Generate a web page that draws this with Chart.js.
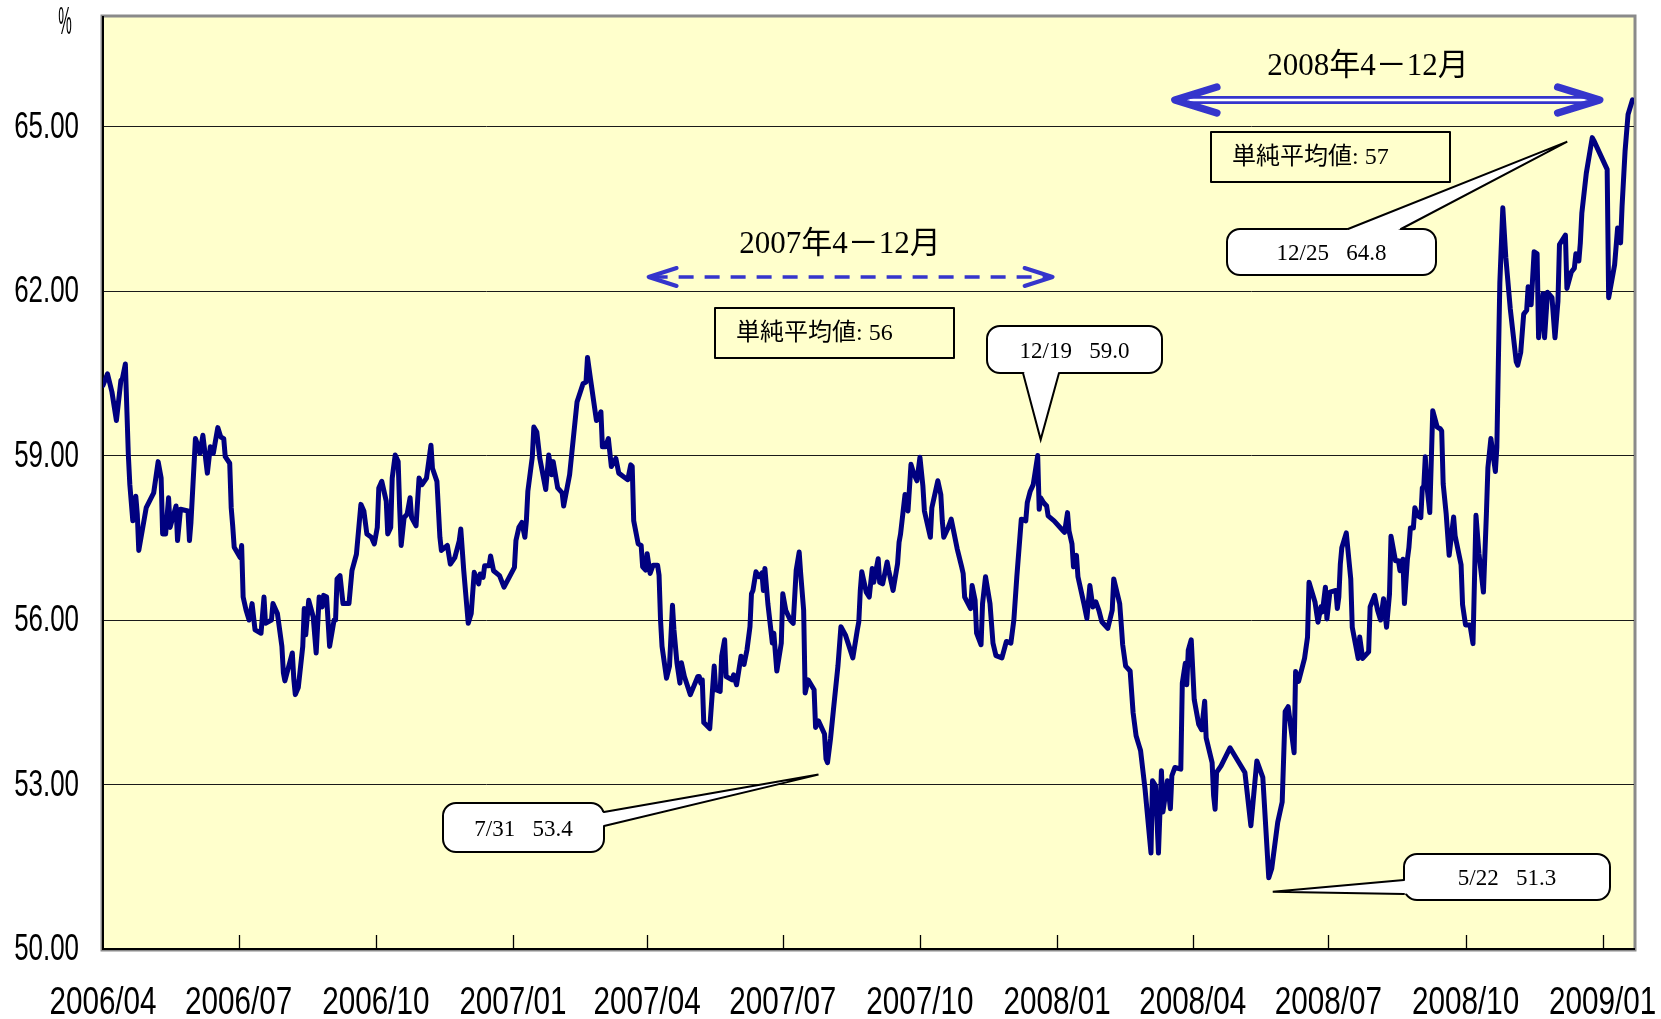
<!DOCTYPE html>
<html>
<head>
<meta charset="utf-8">
<title>Rate 2006/04 - 2009/01</title>
<script src="https://cdn.jsdelivr.net/npm/chart.js@4.4.1/dist/chart.umd.min.js"></script>
<style>
  html, body { margin: 0; padding: 0; background: #fff; }
  canvas { display: block; }
</style>
</head>
<body>
<canvas id="chart" width="1661" height="1019"></canvas>
<script>
// ── data (per month) ──
const dates = [
  '2006/04/01','2006/04/04','2006/04/07','2006/04/10','2006/04/13','2006/04/14','2006/04/16','2006/04/18','2006/04/19','2006/04/21','2006/04/23','2006/04/24','2006/04/25','2006/04/30',
  '2006/05/05','2006/05/08','2006/05/10','2006/05/11','2006/05/13','2006/05/15','2006/05/16','2006/05/20','2006/05/21','2006/05/23','2006/05/28','2006/05/29','2006/05/30',
  '2006/06/02','2006/06/04','2006/06/05','2006/06/07','2006/06/10','2006/06/12','2006/06/14','2006/06/17','2006/06/19','2006/06/21','2006/06/22','2006/06/25','2006/06/26','2006/06/27','2006/06/28',
  '2006/07/02','2006/07/03','2006/07/04','2006/07/06','2006/07/08','2006/07/10','2006/07/12','2006/07/16','2006/07/18','2006/07/19','2006/07/23','2006/07/24','2006/07/27','2006/07/30','2006/07/31',
  '2006/08/01','2006/08/06','2006/08/07','2006/08/08','2006/08/10','2006/08/13','2006/08/14','2006/08/15','2006/08/17','2006/08/20','2006/08/22','2006/08/24','2006/08/26','2006/08/27','2006/08/29','2006/08/31',
  '2006/09/03','2006/09/04','2006/09/05','2006/09/07','2006/09/09','2006/09/13','2006/09/15','2006/09/18','2006/09/21','2006/09/23','2006/09/25','2006/09/28','2006/09/30',
  '2006/10/02','2006/10/03','2006/10/05','2006/10/08','2006/10/09','2006/10/11','2006/10/12','2006/10/14','2006/10/16','2006/10/17','2006/10/18','2006/10/20','2006/10/22','2006/10/24','2006/10/25','2006/10/28','2006/10/30',
  '2006/11/01','2006/11/04','2006/11/07','2006/11/08','2006/11/11','2006/11/13','2006/11/14','2006/11/18','2006/11/20','2006/11/23','2006/11/26','2006/11/27','2006/11/29',
  '2006/12/02','2006/12/04','2006/12/06','2006/12/09','2006/12/10','2006/12/12','2006/12/13','2006/12/16','2006/12/17','2006/12/19','2006/12/23','2006/12/26',
  '2007/01/02','2007/01/03','2007/01/05','2007/01/07','2007/01/09','2007/01/10','2007/01/11','2007/01/14','2007/01/15','2007/01/17','2007/01/19','2007/01/23','2007/01/25','2007/01/27','2007/01/28','2007/01/31',
  '2007/02/03','2007/02/04','2007/02/08','2007/02/13','2007/02/17','2007/02/19','2007/02/20','2007/02/22','2007/02/26','2007/02/27',
  '2007/03/01','2007/03/02','2007/03/04','2007/03/06','2007/03/08','2007/03/11','2007/03/13','2007/03/16','2007/03/19','2007/03/21','2007/03/22','2007/03/23','2007/03/26','2007/03/28','2007/03/29','2007/03/31',
  '2007/04/01','2007/04/03','2007/04/05','2007/04/08','2007/04/09','2007/04/10','2007/04/11','2007/04/14','2007/04/16','2007/04/18','2007/04/19','2007/04/21','2007/04/23','2007/04/24','2007/04/26','2007/04/30',
  '2007/05/05','2007/05/06','2007/05/07','2007/05/08','2007/05/09','2007/05/13','2007/05/16','2007/05/17','2007/05/20','2007/05/21','2007/05/23','2007/05/24','2007/05/28','2007/05/29','2007/05/31',
  '2007/06/03','2007/06/05','2007/06/07','2007/06/09','2007/06/10','2007/06/11','2007/06/13','2007/06/15','2007/06/17','2007/06/18','2007/06/19','2007/06/21','2007/06/24','2007/06/25','2007/06/27','2007/06/30',
  '2007/07/01','2007/07/03','2007/07/06','2007/07/08','2007/07/10','2007/07/12','2007/07/13','2007/07/15','2007/07/16','2007/07/18','2007/07/22','2007/07/23','2007/07/25','2007/07/29','2007/07/30','2007/07/31',
  '2007/08/02','2007/08/04','2007/08/07','2007/08/09','2007/08/12','2007/08/17','2007/08/20','2007/08/21','2007/08/22','2007/08/23','2007/08/26','2007/08/28','2007/08/30','2007/08/31',
  '2007/09/03','2007/09/04','2007/09/06','2007/09/09','2007/09/10','2007/09/13','2007/09/16','2007/09/17','2007/09/18','2007/09/21','2007/09/23','2007/09/25','2007/09/27','2007/09/29',
  '2007/10/01','2007/10/03','2007/10/04','2007/10/08','2007/10/09','2007/10/13','2007/10/15','2007/10/16','2007/10/17','2007/10/20','2007/10/22','2007/10/24','2007/10/26','2007/10/29','2007/10/30','2007/10/31',
  '2007/11/04','2007/11/05','2007/11/07','2007/11/08','2007/11/11','2007/11/12','2007/11/14','2007/11/17','2007/11/19','2007/11/21','2007/11/25','2007/11/28',
  '2007/12/01','2007/12/03','2007/12/05','2007/12/08','2007/12/11','2007/12/12','2007/12/14','2007/12/16','2007/12/19','2007/12/20','2007/12/21','2007/12/23','2007/12/25','2007/12/26','2007/12/30',
  '2008/01/05','2008/01/06','2008/01/08','2008/01/09','2008/01/11','2008/01/12','2008/01/14','2008/01/15','2008/01/19','2008/01/21','2008/01/23','2008/01/25','2008/01/27','2008/01/29','2008/01/31',
  '2008/02/04','2008/02/07','2008/02/08','2008/02/12','2008/02/13','2008/02/14','2008/02/16','2008/02/19','2008/02/21','2008/02/23','2008/02/25','2008/02/26','2008/02/29',
  '2008/03/04','2008/03/05','2008/03/07','2008/03/09','2008/03/11','2008/03/12','2008/03/15','2008/03/17','2008/03/18','2008/03/20','2008/03/24','2008/03/25','2008/03/27','2008/03/28','2008/03/29','2008/03/31',
  '2008/04/02','2008/04/05','2008/04/07','2008/04/09','2008/04/10','2008/04/14','2008/04/15','2008/04/16','2008/04/17','2008/04/20','2008/04/26',
  '2008/05/06','2008/05/10','2008/05/14','2008/05/18','2008/05/22','2008/05/24','2008/05/28','2008/05/31',
  '2008/06/02','2008/06/04','2008/06/08','2008/06/09','2008/06/11','2008/06/15','2008/06/17','2008/06/18','2008/06/22','2008/06/24','2008/06/26','2008/06/27','2008/06/29','2008/06/30',
  '2008/07/02','2008/07/06','2008/07/07','2008/07/08','2008/07/09','2008/07/10','2008/07/13','2008/07/16','2008/07/17','2008/07/21','2008/07/22','2008/07/24','2008/07/28','2008/07/29',
  '2008/08/01','2008/08/03','2008/08/05','2008/08/07','2008/08/09','2008/08/11','2008/08/12','2008/08/15','2008/08/17','2008/08/18','2008/08/20','2008/08/21','2008/08/23','2008/08/24','2008/08/25','2008/08/27','2008/08/28','2008/08/30',
  '2008/09/01','2008/09/02','2008/09/03','2008/09/04','2008/09/05','2008/09/07','2008/09/09','2008/09/12','2008/09/14','2008/09/15','2008/09/16','2008/09/18','2008/09/20','2008/09/23','2008/09/24','2008/09/27','2008/09/28','2008/09/29',
  '2008/10/01','2008/10/04','2008/10/06','2008/10/08','2008/10/10','2008/10/13','2008/10/15','2008/10/16','2008/10/18','2008/10/21','2008/10/22','2008/10/23','2008/10/24','2008/10/26','2008/10/28','2008/10/31',
  '2008/11/04','2008/11/05','2008/11/07','2008/11/09','2008/11/11','2008/11/12','2008/11/14','2008/11/16','2008/11/18','2008/11/19','2008/11/22','2008/11/23','2008/11/25','2008/11/28','2008/11/30',
  '2008/12/02','2008/12/03','2008/12/07','2008/12/08','2008/12/11','2008/12/13','2008/12/14','2008/12/16','2008/12/17','2008/12/18','2008/12/21','2008/12/25','2008/12/26',
  '2009/01/04','2009/01/05','2009/01/09','2009/01/11','2009/01/13','2009/01/14','2009/01/16','2009/01/18','2009/01/21'
];

const rates = [
  60.28,60.49,60.16,59.64,60.37,60.40,60.67,59.01,58.47,57.81,58.26,57.93,57.27,58.05,
  58.32,58.89,58.59,57.57,57.57,58.23,57.69,58.08,57.45,58.02,57.99,57.45,57.78,
  59.31,59.16,59.04,59.37,58.68,59.16,59.04,59.51,59.34,59.31,58.98,58.86,58.05,57.72,57.33,
  57.14,57.36,56.42,56.18,56.00,56.30,55.82,55.76,56.42,55.94,56.00,56.30,56.12,55.52,55.04,
  54.89,55.40,54.92,54.64,54.77,55.52,56.21,55.73,56.36,56.06,55.40,56.42,56.24,56.45,56.42,55.52,
  56.00,56.00,56.75,56.81,56.30,56.30,56.90,57.20,58.11,57.99,57.57,57.51,57.39,
  57.69,58.41,58.53,58.17,57.57,57.69,58.59,59.01,58.89,58.05,57.36,57.87,57.93,58.23,57.87,57.72,58.59,
  58.47,58.59,59.19,58.77,58.53,57.51,57.27,57.36,57.02,57.14,57.45,57.66,56.90,
  55.94,56.12,56.87,56.66,56.84,56.78,56.99,56.99,57.17,56.90,56.81,56.60,
  56.96,57.45,57.69,57.78,57.51,57.81,58.35,58.98,59.52,59.43,58.95,58.38,59.01,58.65,58.89,58.41,
  58.32,58.08,58.65,59.98,60.31,60.34,60.79,60.40,59.64,59.67,
  59.80,59.16,59.16,59.31,58.80,58.95,58.68,58.62,58.56,58.83,58.80,57.81,57.39,57.36,56.97,56.91,
  57.21,56.85,57.00,57.00,56.82,56.00,55.52,54.94,55.16,56.27,55.82,55.22,54.85,55.22,54.97,54.64,
  54.97,54.97,54.85,54.91,54.13,54.02,55.16,54.73,54.70,55.34,55.64,54.97,54.91,55.00,54.82,
  55.34,55.19,55.46,55.88,56.48,56.54,56.88,56.79,56.86,56.54,56.94,56.30,55.58,55.76,55.07,55.58,
  56.48,56.18,56.00,55.94,56.91,57.24,56.85,56.18,54.67,54.91,54.73,54.04,54.16,53.92,53.47,53.40,
  53.83,54.37,55.16,55.88,55.73,55.31,55.82,55.97,56.54,56.88,56.51,56.42,56.94,56.69,
  57.12,56.69,56.66,57.06,56.91,56.54,57.03,57.42,57.57,58.29,57.99,58.84,58.66,58.54,
  58.97,58.44,57.99,57.51,58.05,58.54,58.29,57.81,57.51,57.69,57.84,57.57,57.30,56.97,56.85,56.42,
  56.21,56.63,56.36,55.76,55.55,56.30,56.79,56.30,55.58,55.35,55.31,55.61,
  55.58,56.00,56.79,57.84,57.81,58.14,58.35,58.47,59.00,58.02,58.23,58.14,58.08,57.90,57.81,
  57.63,57.60,57.96,57.63,57.39,56.97,57.18,56.79,56.30,56.03,56.63,56.24,56.33,56.18,55.97,
  55.85,56.18,56.75,56.30,55.94,55.55,55.16,55.07,54.31,53.89,53.71,53.62,52.92,
  51.75,53.07,52.98,51.75,53.25,52.50,53.07,52.56,53.16,53.31,53.28,54.85,55.21,54.82,55.45,55.64,
  54.55,54.10,54.00,54.52,53.85,53.40,52.80,52.55,53.22,53.34,53.67,
  53.22,52.25,53.43,53.13,51.30,51.47,52.31,52.68,
  54.33,54.42,53.58,55.06,54.88,55.30,55.69,56.69,56.33,55.96,56.24,56.15,56.60,56.02,
  56.51,56.54,56.21,56.42,57.02,57.32,57.59,56.75,55.87,55.30,55.69,55.30,55.42,56.24,
  56.45,56.18,56.00,56.39,55.87,56.48,57.53,57.08,57.08,56.90,57.11,56.30,57.11,57.32,57.68,57.68,58.05,57.90,
  57.87,58.41,58.44,58.98,58.47,57.96,59.82,59.52,59.49,59.45,58.48,57.94,57.18,57.88,57.54,57.14,57.01,56.28,
  55.91,55.91,55.57,57.91,57.21,56.51,57.94,58.78,59.31,58.71,59.15,60.68,62.15,63.52,62.62,61.68,
  60.71,60.65,60.88,61.58,61.65,62.08,61.75,62.72,62.68,61.15,61.95,61.15,61.98,61.88,61.15,
  61.82,62.85,63.02,62.05,62.35,62.42,62.68,62.55,62.88,63.42,64.15,64.80,64.75,
  64.22,61.88,62.48,63.15,62.88,63.55,64.55,65.22,65.49
];

const xTickLabels = ['2006/04','2006/07','2006/10','2007/01','2007/04','2007/07','2007/10','2008/01','2008/04','2008/07','2008/10','2009/01'];
const yTickValues = [50, 53, 56, 59, 62, 65];
const Y_MIN = 50, Y_MAX = 67;
const AXIS_END = '2009/01/22';

// ── annotations ──
const periods = [
  { label: '2007年4－12月', from: '2007/04/02', to: '2007/12/29', arrowY: 277, textX: 840, textY: 245, dashed: true },
  { label: '2008年4－12月', from: '2008/03/20', to: '2008/12/30', arrowY: 100, textX: 1368, textY: 67, dashed: false }
];
const avgBoxes = [
  { text: '単純平均値: 56', box: [715, 308, 239, 50] },
  { text: '単純平均値: 57', box: [1211, 132, 239, 50] }
];
const callouts = [
  { text: '12/19   59.0', at: ['2007/12/19', 59.0], dx: 3, dy: -16, box: [987, 326, 175, 47], wedge: [[1023, 373], [1059, 373]] },
  { text: '7/31   53.4', at: ['2007/07/31', 53.4], dx: -9, dy: 12, box: [443, 803, 161, 49], wedge: [[604, 812], [604, 826]] },
  { text: '5/22   51.3', at: ['2008/05/22', 51.3], dx: 4, dy: 14, box: [1404, 854, 206, 46], wedge: [[1404, 880], [1404, 894]] },
  { text: '12/25   64.8', at: ['2008/12/25', 64.8], dx: -25, dy: 4, box: [1227, 229, 209, 46], wedge: [[1348, 229], [1401, 229]] }
];

// no narrow font installed: axis text is squeezed horizontally when drawn
const AXIS_FONT = "'Liberation Sans', Arial, sans-serif";
const NOTE_FONT = "'Liberation Serif', 'Noto Sans CJK JP', serif";
const ARROW = '#3535cc';

const BASE = Date.UTC(2006, 3, 1);
function dayOf(s) {
  const p = s.split('/').map(Number);
  return Math.round((Date.UTC(p[0], p[1] - 1, p[2] || 1) - BASE) / 86400000);
}

function roundBox(ctx, x, y, w, h, r) {
  ctx.beginPath();
  ctx.moveTo(x + r, y);
  ctx.arcTo(x + w, y, x + w, y + h, r);
  ctx.arcTo(x + w, y + h, x, y + h, r);
  ctx.arcTo(x, y + h, x, y, r);
  ctx.arcTo(x, y, x + w, y, r);
  ctx.closePath();
}

function chevron(ctx, tipX, y, dir, len, half, width) {
  ctx.beginPath();
  ctx.moveTo(tipX + dir * len, y - half);
  ctx.lineTo(tipX, y);
  ctx.lineTo(tipX + dir * len, y + half);
  ctx.lineWidth = width;
  ctx.lineCap = 'round';
  ctx.lineJoin = 'round';
  ctx.stroke();
}

function squeezedText(ctx, text, x, y, sx) {
  ctx.save();
  ctx.translate(x, y);
  ctx.scale(sx, 1);
  ctx.fillText(text, 0, 0);
  ctx.restore();
}

function drawNotes(chart) {
  const { ctx, scales: { x, y } } = chart;
  ctx.save();

  // period arrows + labels
  periods.forEach(p => {
    const x1 = x.getPixelForValue(dayOf(p.from));
    const x2 = x.getPixelForValue(dayOf(p.to));
    ctx.strokeStyle = ARROW;
    if (p.dashed) {
      ctx.setLineDash([15, 11]);
      ctx.lineWidth = 3.5;
      ctx.lineCap = 'butt';
      ctx.beginPath(); ctx.moveTo(x1 + 4, p.arrowY); ctx.lineTo(x2 - 4, p.arrowY); ctx.stroke();
      ctx.setLineDash([]);
      chevron(ctx, x1, p.arrowY, 1, 28, 9, 4);
      chevron(ctx, x2, p.arrowY, -1, 28, 9, 4);
    } else {
      ctx.lineWidth = 8;
      ctx.lineCap = 'butt';
      ctx.beginPath(); ctx.moveTo(x1 + 4, p.arrowY); ctx.lineTo(x2 - 4, p.arrowY); ctx.stroke();
      ctx.strokeStyle = '#ffffff';
      ctx.lineWidth = 2.4;
      ctx.beginPath(); ctx.moveTo(x1 + 12, p.arrowY); ctx.lineTo(x2 - 12, p.arrowY); ctx.stroke();
      ctx.strokeStyle = ARROW;
      chevron(ctx, x1, p.arrowY, 1, 42, 13, 7.5);
      chevron(ctx, x2, p.arrowY, -1, 42, 13, 7.5);
    }
    ctx.fillStyle = '#000';
    ctx.font = '31px ' + NOTE_FONT;
    ctx.textAlign = 'center';
    ctx.textBaseline = 'middle';
    ctx.fillText(p.label, p.textX, p.textY);
  });

  // simple-average boxes
  avgBoxes.forEach(b => {
    const [bx, by, bw, bh] = b.box;
    ctx.strokeStyle = '#000';
    ctx.lineWidth = 2;
    ctx.strokeRect(bx, by, bw, bh);
    ctx.fillStyle = '#000';
    ctx.font = '24px ' + NOTE_FONT;
    ctx.textAlign = 'left';
    ctx.textBaseline = 'middle';
    ctx.fillText(b.text, bx + 21, by + bh / 2 + 1);
  });

  // callouts pointing at highs / lows
  callouts.forEach(c => {
    const [bx, by, bw, bh] = c.box;
    const tx = x.getPixelForValue(dayOf(c.at[0])) + c.dx;
    const ty = y.getPixelForValue(c.at[1]) + c.dy;
    ctx.lineWidth = 2;
    ctx.strokeStyle = '#000';
    ctx.fillStyle = '#fff';
    roundBox(ctx, bx, by, bw, bh, 13);
    ctx.fill();
    ctx.stroke();
    const cx = bx + bw / 2, cy = by + bh / 2;
    const inset = pt => {
      const vx = cx - pt[0], vy = cy - pt[1];
      const d = Math.hypot(vx, vy) || 1;
      return [pt[0] + vx / d * 4, pt[1] + vy / d * 4];
    };
    const [p1, p2] = c.wedge;
    const q1 = inset(p1), q2 = inset(p2);
    ctx.beginPath();
    ctx.moveTo(q1[0], q1[1]); ctx.lineTo(p1[0], p1[1]); ctx.lineTo(tx, ty);
    ctx.lineTo(p2[0], p2[1]); ctx.lineTo(q2[0], q2[1]);
    ctx.closePath();
    ctx.fill();
    ctx.beginPath();
    ctx.moveTo(p1[0], p1[1]); ctx.lineTo(tx, ty); ctx.lineTo(p2[0], p2[1]);
    ctx.lineJoin = 'miter';
    ctx.stroke();
    ctx.fillStyle = '#000';
    ctx.font = '23px ' + NOTE_FONT;
    ctx.textAlign = 'center';
    ctx.textBaseline = 'middle';
    ctx.fillText(c.text, cx, cy + 2);
  });

  ctx.restore();
}

const plotDecor = {
  id: 'plotDecor',
  beforeDraw(chart) {
    const { ctx, chartArea: a } = chart;
    ctx.save();
    ctx.fillStyle = '#ffffff';
    ctx.fillRect(0, 0, chart.width, chart.height);
    ctx.fillStyle = '#ffffcc';
    ctx.fillRect(a.left, a.top, a.width, a.height);
    ctx.strokeStyle = '#8a8a8a';
    ctx.lineWidth = 3;
    ctx.strokeRect(a.left - 1, a.top - 1, a.width + 2, a.height + 2);
    ctx.restore();
  },
  beforeDatasetsDraw(chart) {
    // tick marks point inward on the time axis
    const { ctx, chartArea: a, scales: { x } } = chart;
    ctx.save();
    ctx.strokeStyle = '#000';
    ctx.lineWidth = 1.3;
    x.ticks.forEach((t, i) => {
      if (i === 0) return;
      const px = Math.round(x.getPixelForValue(t.value)) + 0.5;
      ctx.beginPath(); ctx.moveTo(px, a.bottom); ctx.lineTo(px, a.bottom - 14); ctx.stroke();
    });
    ctx.restore();
  },
  afterDatasetsDraw(chart) {
    drawNotes(chart);
  },
  afterDraw(chart) {
    // tick labels from the scales, condensed like the original
    const { ctx, chartArea: a, scales: { x, y } } = chart;
    ctx.save();
    ctx.fillStyle = '#000';
    ctx.textBaseline = 'middle';
    ctx.font = '38px ' + AXIS_FONT;
    ctx.textAlign = 'center';
    x.ticks.forEach(t => squeezedText(ctx, t.label, x.getPixelForValue(t.value), a.bottom + 55, 0.78));
    ctx.font = '37px ' + AXIS_FONT;
    ctx.textAlign = 'right';
    y.ticks.forEach(t => squeezedText(ctx, t.label, a.left - 24, y.getPixelForValue(t.value) + 1, 0.7));
    ctx.font = '38px ' + AXIS_FONT;
    ctx.textAlign = 'center';
    squeezedText(ctx, '%', 65, 24, 0.4);
    ctx.restore();
  }
};

new Chart(document.getElementById('chart'), {
  type: 'line',
  data: {
    datasets: [{
      data: dates.map((d, i) => ({ x: dayOf(d), y: rates[i] })),
      borderColor: '#000080',
      borderWidth: 5,
      pointRadius: 0,
      tension: 0,
      borderJoinStyle: 'round',
      borderCapStyle: 'round',
      fill: false
    }]
  },
  options: {
    responsive: false,
    animation: false,
    devicePixelRatio: 1,
    layout: { padding: { top: 17, right: 27, bottom: 0, left: 0 } },
    plugins: { legend: { display: false }, tooltip: { enabled: false } },
    scales: {
      x: {
        type: 'linear',
        min: 0,
        max: dayOf(AXIS_END),
        afterBuildTicks: s => { s.ticks = xTickLabels.map(l => ({ value: dayOf(l) })); },
        afterFit: s => { s.height = 70; s.paddingLeft = 0; s.paddingRight = 0; },
        grid: { display: false, drawTicks: false },
        border: { display: true, color: '#000', width: 2 },
        ticks: { display: false, autoSkip: false, callback: (v, i) => xTickLabels[i] }
      },
      y: {
        min: Y_MIN,
        max: Y_MAX,
        afterBuildTicks: s => { s.ticks = yTickValues.map(v => ({ value: v })); },
        afterFit: s => { s.width = 103; s.paddingTop = 0; s.paddingBottom = 0; },
        grid: { color: '#1a1a1a', lineWidth: 1, drawTicks: false },
        border: { display: true, color: '#000', width: 2 },
        ticks: { display: false, autoSkip: false, callback: v => v.toFixed(2) }
      }
    }
  },
  plugins: [plotDecor]
});
</script>
</body>
</html>
